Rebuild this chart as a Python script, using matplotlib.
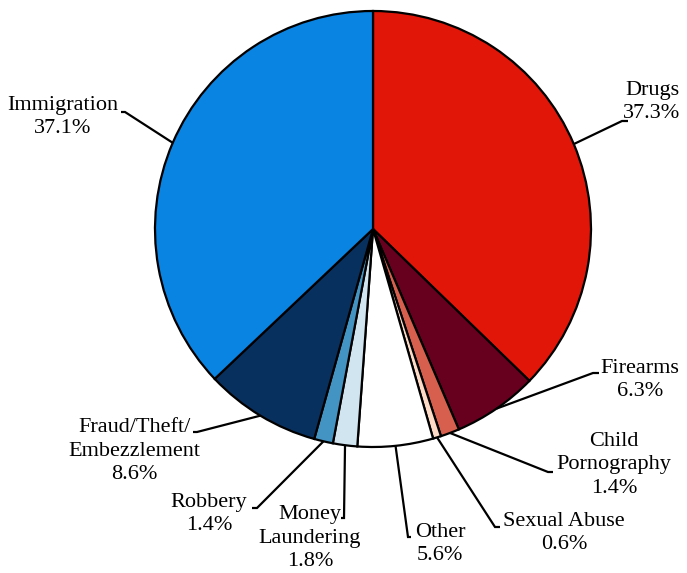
import numpy as np
import matplotlib
matplotlib.use('Agg')
import matplotlib.pyplot as plt

categories = ['Drugs', 'Firearms', 'Child\nPornography', 'Sexual Abuse', 'Other',
              'Money\nLaundering', 'Robbery', 'Fraud/Theft/\nEmbezzlement', 'Immigration']
shares = [37.3, 6.3, 1.4, 0.6, 5.6, 1.8, 1.4, 8.6, 37.1]
colors = ['#E11508', '#67001F', '#D6604D', '#FDDBC7', '#FFFFFF',
          '#D1E5F0', '#4393C3', '#08305F', '#0A84E3']

# layout in pixels (figure 687x573, pie centre 373,229, radius 218)
CX, CY, R = 373, 229, 218
elbows = [(622, 121), (593, 373), (548, 472), (495, 527), (408, 537),
          (344, 518), (257, 508), (197, 432), (125, 112)]
hooks = [6, 6, 5, 5, 3, -3, -5, -4, -4]
text_pos = [(652, 102), (640, 380), (614, 465), (564, 533), (440, 544),
            (310, 538), (209, 514), (134, 451), (63, 117)]

def px(x, y):
    return (x - CX) / R, (CY - y) / R

plt.rcParams['font.family'] = ['Liberation Serif', 'DejaVu Serif']
fig = plt.figure(figsize=(6.87, 5.73), dpi=100)
ax = fig.add_axes([0, 0, 1, 1])

wedges, _ = ax.pie(shares, colors=colors, startangle=90, counterclock=False,
                   radius=1, center=(0, 0), frame=True,
                   wedgeprops=dict(edgecolor='black', linewidth=1.6))
ax.set_xlim(px(0, 0)[0], px(687, 0)[0])
ax.set_ylim(px(0, 573)[1], px(0, 0)[1])
ax.axis('off')

for w, name, s, el, hk, tp in zip(wedges, categories, shares, elbows, hooks, text_pos):
    ang = np.deg2rad((w.theta1 + w.theta2) / 2)
    x0, y0 = np.cos(ang), np.sin(ang)
    x1, y1 = px(*el)
    x2, y2 = px(el[0] + hk, el[1])
    ax.plot([x0, x1, x2], [y0, y1, y2], color='black', linewidth=1.6,
            solid_capstyle='butt', solid_joinstyle='miter')
    tx, ty = px(*tp)
    ax.text(tx, ty, f'{name}\n{s}%', ha='center', va='center',
            fontsize=16, linespacing=1.3, color='black')

fig.savefig('out.png', dpi=100)
